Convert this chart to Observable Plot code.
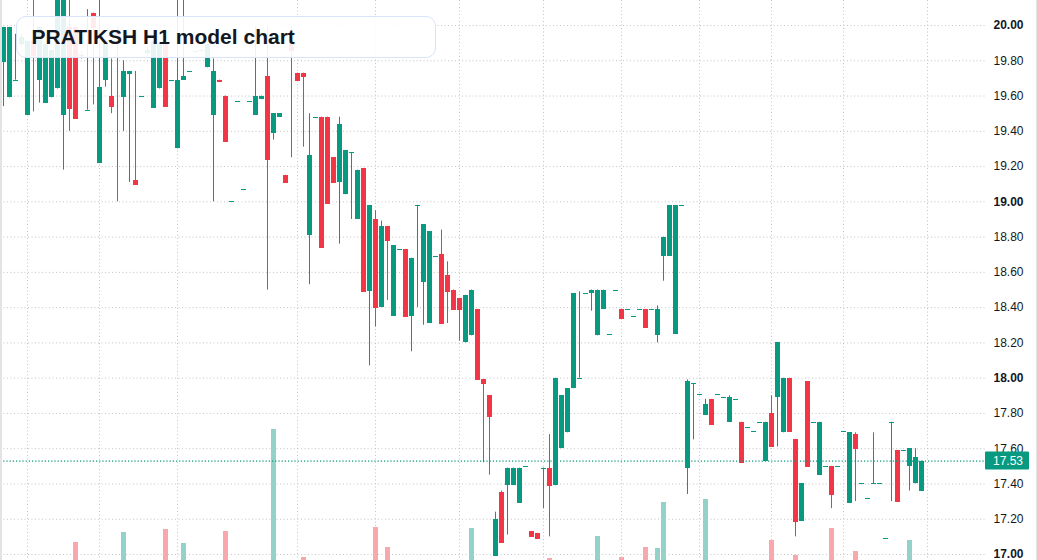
<!DOCTYPE html>
<html>
<head>
<meta charset="utf-8">
<script src="https://cdn.jsdelivr.net/npm/d3@7"></script>
<script src="https://cdn.jsdelivr.net/npm/@observablehq/plot@0.6"></script>
<style>
html, body { margin: 0; padding: 0; background: #fff; overflow: hidden; }
#wrap { position: relative; width: 1037px; height: 560px; overflow: hidden; font-family: "Liberation Sans", Arial, sans-serif; }
#title { position: absolute; left: 16px; top: 16px; width: 420px; height: 42px; box-sizing: border-box;
  border: 1.5px solid #d8e4fa; border-radius: 10px; background: rgba(255,255,255,0.9);
  font-weight: bold; font-size: 21px; color: #131722; line-height: 39px; padding-left: 14.5px; }
#bl { position: absolute; left: 0; top: 0; width: 2px; height: 560px; background: #e3e3e3; }
#br { position: absolute; left: 1036px; top: 0; width: 1px; height: 560px; background: #e3e3e3; }
</style>
</head>
<body>
<div id="wrap">
  <div id="chart"></div>
  <div id="title">PRATIKSH H1 model chart</div>
  <div id="bl"></div>
  <div id="br"></div>
</div>
<script>
// ---- data (hourly candles, left to right) ----
const open = [
19.79,19.59,19.69,19.89,19.49,19.91,19.69,19.56,19.59,19.64,
19.49,19.99,19.99,19.83,19.52,20.07,19.22,19.69,19.60,19.97,
19.59,19.72,19.12,19.60,19.84,19.53,19.64,19.90,19.69,19.30,
19.69,19.74,19.85,19.86,19.76,19.49,19.69,19.60,19.00,19.57,
19.07,19.57,19.49,19.58,19.71,19.39,19.48,19.15,19.89,19.73,
19.73,18.81,19.48,19.48,19.48,19.25,19.11,19.04,19.28,18.90,
19.19,18.49,18.90,18.40,18.86,18.35,18.73,18.73,18.35,18.98,
18.54,18.31,18.69,18.70,18.58,18.50,18.45,18.20,18.24,18.39,
17.99,17.90,16.99,17.35,17.39,17.39,17.29,17.50,17.13,17.12,
17.49,17.49,17.39,17.60,17.69,17.94,18.00,18.48,18.48,18.24,
18.39,18.25,18.50,18.39,18.39,18.35,18.39,18.39,18.39,18.24,
18.69,18.69,18.25,18.98,17.49,17.97,17.91,17.79,17.88,17.91,
17.89,17.75,17.88,17.75,17.72,17.70,17.75,17.53,17.80,17.89,
17.69,18.00,17.65,17.19,17.98,17.75,17.45,17.50,17.50,17.50,
17.70,17.29,17.68,17.40,17.32,17.40,17.40,17.09,17.75,17.59,
17.59,17.50,17.40,17.36
];
const high = [
19.99,19.99,19.95,19.95,19.91,20.15,19.99,19.89,19.86,20.16,
20.16,20.15,19.99,19.85,20.09,20.07,20.15,19.91,19.81,19.99,
19.80,19.74,19.74,19.60,19.88,19.91,19.90,19.90,19.69,20.15,
20.15,19.74,19.85,19.86,19.89,19.81,19.69,19.60,19.00,19.57,
19.07,19.57,19.99,19.60,19.99,19.50,19.50,19.15,19.99,19.73,
19.73,19.50,19.48,19.48,19.48,19.25,19.48,19.29,19.28,19.18,
19.19,18.98,18.95,18.89,18.86,18.75,18.73,18.73,18.68,18.98,
18.87,18.83,18.69,18.84,18.66,18.50,18.45,18.47,18.50,18.39,
17.99,17.90,17.24,17.36,17.49,17.49,17.49,17.50,17.13,17.12,
17.49,17.68,18.00,17.90,17.94,18.48,18.49,18.48,18.50,18.50,
18.50,18.25,18.50,18.39,18.39,18.35,18.39,18.39,18.39,18.41,
18.80,18.98,18.98,18.98,17.99,17.97,17.91,17.88,17.88,17.91,
17.89,17.90,17.88,17.75,17.72,17.70,17.75,17.75,17.90,18.20,
18.00,18.00,17.65,17.40,17.98,17.75,17.75,17.50,17.50,17.50,
17.70,17.69,17.69,17.40,17.32,17.69,17.40,17.09,17.75,17.59,
17.59,17.60,17.60,17.53
];
const low = [
19.54,19.59,19.69,19.88,19.49,19.51,19.56,19.56,19.59,19.64,
19.18,19.40,19.47,19.81,19.52,19.55,19.22,19.65,19.50,19.00,
19.40,19.11,19.10,19.60,19.83,19.53,19.64,19.54,19.69,19.30,
19.69,19.74,19.85,19.86,19.76,19.00,19.68,19.34,19.00,19.57,
19.07,19.57,19.49,19.58,18.50,19.35,19.48,19.11,19.25,19.69,
19.31,18.53,19.48,18.74,18.99,19.11,18.76,19.04,18.90,18.90,
18.49,18.07,18.29,18.40,18.44,18.35,18.73,18.35,18.15,18.40,
18.30,18.31,18.69,18.31,18.31,18.39,18.21,18.20,18.24,17.99,
17.52,17.45,16.99,17.07,17.11,17.39,17.29,17.50,17.10,17.09,
17.26,17.10,17.39,17.60,17.69,17.94,18.00,18.48,18.38,18.24,
18.39,18.25,18.50,18.34,18.39,18.35,18.39,18.29,18.39,18.20,
18.55,18.69,18.25,18.98,17.34,17.65,17.91,17.79,17.74,17.91,
17.89,17.75,17.88,17.52,17.72,17.70,17.75,17.53,17.61,17.61,
17.69,17.70,17.10,17.19,17.50,17.75,17.45,17.50,17.26,17.50,
17.70,17.29,17.30,17.40,17.32,17.40,17.40,17.09,17.30,17.30,
17.59,17.36,17.40,17.36
];
const close = [
19.99,19.99,19.69,19.93,19.91,19.83,19.99,19.89,19.86,20.16,
20.16,19.53,19.47,19.83,19.52,19.99,19.65,19.91,19.54,19.94,
19.74,19.74,19.10,19.60,19.86,19.91,19.90,19.54,19.69,19.69,
19.71,19.74,19.85,19.86,19.89,19.74,19.68,19.34,19.00,19.57,
19.07,19.57,19.60,19.60,19.24,19.50,19.50,19.11,19.86,19.69,
19.71,19.26,19.48,18.74,18.99,19.11,19.44,19.29,19.28,19.18,
18.49,18.98,18.40,18.86,18.78,18.75,18.73,18.35,18.68,18.98,
18.87,18.83,18.69,18.31,18.49,18.39,18.39,18.47,18.50,17.99,
17.97,17.78,17.20,17.07,17.49,17.49,17.49,17.50,17.10,17.09,
17.49,17.39,18.00,17.90,17.94,18.48,18.00,18.48,18.50,18.50,
18.50,18.25,18.50,18.34,18.39,18.35,18.39,18.29,18.39,18.39,
18.80,18.98,18.98,18.98,17.98,17.97,17.91,17.85,17.74,17.91,
17.89,17.89,17.88,17.52,17.72,17.70,17.75,17.75,17.61,18.20,
18.00,17.70,17.19,17.40,17.50,17.75,17.75,17.50,17.34,17.50,
17.70,17.69,17.60,17.40,17.32,17.40,17.40,17.09,17.75,17.30,
17.59,17.60,17.55,17.53
];
// volume (thousands) for the bars that are visible, by candle index
const volIndex  = [12, 20, 27, 30, 37, 45, 50, 62, 64, 78, 91, 99, 103, 107, 109, 110, 117, 128, 132, 138, 142, 151];
const volAmount = [18, 28, 31, 17, 29, 131, 3, 33, 13, 32, 2, 24, 3, 13, 12, 58, 61, 20, 5, 32, 9, 20];
// session (day) boundaries, candle index
const dayBreaks = [4, 16, 29, 49, 62, 76, 90, 103, 116, 128, 140, 154];
// price axis ticks
const yTicks = [17.00, 17.20, 17.40, 17.60, 17.80, 18.00, 18.20, 18.40, 18.60, 18.80, 19.00, 19.20, 19.40, 19.60, 19.80, 20.00];

// ---- build ----
const UP = "#089981", DOWN = "#F23645";
const W = 1037, H = 560, PLOT_RIGHT = 985;
const yLo = 16.966, yHi = 20.1418;
const half = 2.5 / 6;
const candles = open.map((o, i) => ({i, o, h: high[i], l: low[i], c: close[i], up: close[i] >= o}));
const ups = candles.filter(d => d.up), downs = candles.filter(d => !d.up);
const maxVol = d3.max(volAmount);
const volFrac = 0.2345;
const vols = volIndex.map((i, k) => ({i, v: volAmount[k], up: close[i] >= open[i]}));
const volTop = d => yLo + d.v / maxVol * volFrac * (yHi - yLo);
const last = candles[candles.length - 1];
const intTicks = yTicks.filter(t => Math.abs(t - Math.round(t)) < 1e-9);
const fracTicks = yTicks.filter(t => Math.abs(t - Math.round(t)) >= 1e-9);

const candleMarks = (data, col) => [
  Plot.ruleX(data, {x: "i", y1: "l", y2: "h", stroke: col, strokeWidth: 1, clip: true}),
  Plot.rect(data, {x1: d => d.i - half, x2: d => d.i + half, y1: "o", y2: "c", fill: col, clip: true, shapeRendering: "crispEdges"}),
  Plot.ruleY(data, {y: "c", x1: d => d.i - half, x2: d => d.i + half, stroke: col, strokeWidth: 1, clip: true, shapeRendering: "crispEdges"})
];

const plot = Plot.plot({
  width: W, height: H,
  marginLeft: 0, marginRight: W - PLOT_RIGHT, marginTop: 0, marginBottom: 0,
  x: {type: "linear", domain: [-0.5, (PLOT_RIGHT - 3) / 6], axis: null},
  y: {domain: [yLo, yHi], axis: null},
  style: {fontFamily: "'Liberation Sans', Arial, sans-serif", fontSize: "12px", color: "#131722", background: "transparent"},
  marks: [
    Plot.rect(vols.filter(d => d.up), {x1: d => d.i - half, x2: d => d.i + half, y1: yLo, y2: volTop, fill: UP, fillOpacity: 0.44, shapeRendering: "crispEdges"}),
    Plot.rect(vols.filter(d => !d.up), {x1: d => d.i - half, x2: d => d.i + half, y1: yLo, y2: volTop, fill: DOWN, fillOpacity: 0.44, shapeRendering: "crispEdges"}),
    Plot.ruleY(yTicks, {stroke: "#c4c4c4", strokeDasharray: "1,2.5", strokeWidth: 1}),
    Plot.ruleX(dayBreaks, {stroke: "#c4c4c4", strokeDasharray: "1,2.5", strokeWidth: 1}),
    ...candleMarks(ups, UP),
    ...candleMarks(downs, DOWN),
    Plot.ruleY([last.c], {stroke: UP, strokeDasharray: "1.2,2", strokeWidth: 1.2}),
    Plot.axisY(fracTicks, {anchor: "right", tickSize: 0, tickPadding: 8, tickFormat: d => d.toFixed(2), label: null}),
    Plot.axisY(intTicks, {anchor: "right", tickSize: 0, tickPadding: 8, tickFormat: d => d.toFixed(2), fontWeight: "bold", label: null})
  ]
});

// last price tag in the right margin
const ySc = plot.scale("y");
const yy = ySc.apply(last.c);
const svg = d3.select(plot);
svg.append("rect").attr("x", PLOT_RIGHT).attr("y", yy - 9).attr("width", 44).attr("height", 18)
  .attr("rx", 1).attr("fill", UP);
svg.append("text").attr("x", PLOT_RIGHT + 8).attr("y", yy).attr("dy", "0.35em")
  .attr("text-anchor", "start")
  .attr("fill", "#fff").attr("font-size", 12).attr("font-family", "'Liberation Sans', Arial, sans-serif")
  .text(last.c.toFixed(2));

document.getElementById("chart").appendChild(plot);
</script>
</body>
</html>
